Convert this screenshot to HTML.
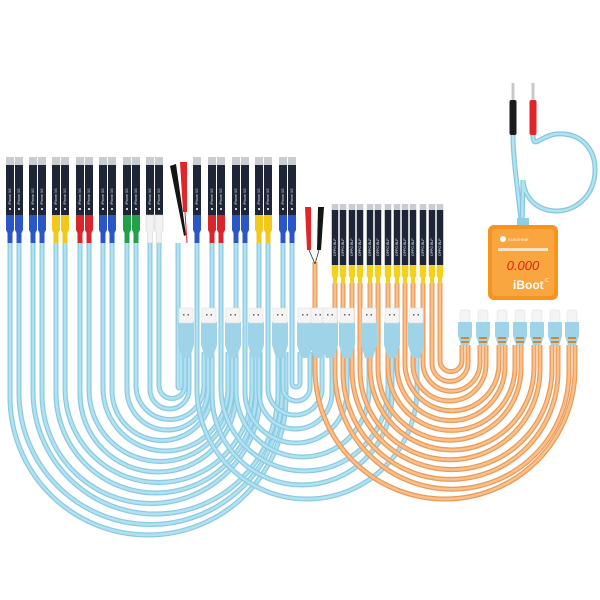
<!DOCTYPE html>
<html><head><meta charset="utf-8"><style>
html,body{margin:0;padding:0;background:#fff;width:600px;height:600px;overflow:hidden}
svg{display:block}
</style></head><body>
<svg id="s" width="600" height="600" viewBox="0 0 600 600" xmlns="http://www.w3.org/2000/svg" font-family="Liberation Sans, sans-serif">
<rect width="600" height="600" fill="#fff"/>
<g id="cables"></g>
<g id="parts"></g>
<g fill="none" stroke-linecap="round">
<path d="M513 135 C513 160 518 190 522 228" stroke="#86c7de" stroke-width="5"/>
<path d="M513 135 C513 160 518 190 522 228" stroke="#b3e2f1" stroke-width="2.5"/>
<path d="M533 135 C533 150 540 136 556 134 C582 132 596 150 595 172 C594 196 575 212 555 211 C535 210 524 196 523 180 L522 228" stroke="#86c7de" stroke-width="5"/>
<path d="M533 135 C533 150 540 136 556 134 C582 132 596 150 595 172 C594 196 575 212 555 211 C535 210 524 196 523 180 L522 228" stroke="#b3e2f1" stroke-width="2.5"/>
</g>
<rect x="511.5" y="83" width="3" height="18" fill="#c8c8c8"/>
<rect x="509.5" y="100" width="7" height="35" rx="2" fill="#1b1b1b"/>
<rect x="531.5" y="83" width="3" height="18" fill="#c8c8c8"/>
<rect x="529.5" y="100" width="7" height="35" rx="2" fill="#e0262a"/>
<rect x="517" y="218" width="12" height="10" fill="#8fcfe4"/>
<rect x="488" y="225" width="70" height="75" rx="6" fill="#f7941d"/>
<rect x="492" y="229" width="62" height="67" rx="4" fill="#f9a640"/>
<circle cx="503" cy="239" r="3" fill="#fff"/>
<text x="508" y="241" font-size="4" fill="#fff">SUNSHINE</text>
<rect x="498" y="248" width="50" height="3" fill="#fde2bf"/>
<text x="523" y="270" font-size="13" fill="#d6261c" text-anchor="middle" font-style="italic">0.000</text>
<text x="513" y="289" font-size="12" font-weight="bold" fill="#fff">iBoot</text>
<text x="545" y="282" font-size="5" fill="#fff">C</text>
<g id="labels" font-size="3.5" fill="#dfe6ee"></g>
</svg>
<script>
const NS="http://www.w3.org/2000/svg";
const cab=document.getElementById('cables'),parts=document.getElementById('parts');
function el(p,tag,a){const e=document.createElementNS(NS,tag);for(const k in a)e.setAttribute(k,a[k]);p.appendChild(e);return e;}
function u(x1,y1,x2,y2,B){
  const L=Math.min(x1,x2),R=Math.max(x1,x2);let r=(R-L)/2;r=Math.min(r,B-Math.max(y1,y2)-2);if(r<1)r=1;
  return `M${x1} ${y1} V${B-r} A${r} ${r} 0 0 ${x2>x1?0:1} ${x1+(x2>x1?r:-r)} ${B} H${x2+(x2>x1?-r:r)} A${r} ${r} 0 0 ${x2>x1?0:1} ${x2} ${B-r} V${y2}`;
}
function cable(d,c1,c2){el(cab,'path',{d,fill:'none',stroke:c1,'stroke-width':5});el(cab,'path',{d,fill:'none',stroke:c2,'stroke-width':2.5});}
const BL1='#8acbe2',BL2='#b2e1f1',OR1='#eb9b57',OR2='#f8c08c';
const lf=[10,19,33,42,56,65,80,89,103,112,127,136,150,159,178];
const lp=[286,282,278,260,256,252,236,232,228,212,208,204,189,185,181];
lf.forEach((x,i)=>cable(u(x,243,lp[i],352,535-i*10.5),BL1,BL2));
const rf=[197,212,221,236,245,259,268,283,292];
const rp=[417,392,388,369,347,332,322,310,300];
rf.forEach((x,i)=>cable(u(x,243,rp[i],352,499-i*14),BL1,BL2));
const of=[315,335,343,352,360,370,378,388,397,405,413,423,432,440];
const op=[575,569,558,552,540,534,521,515,505,499,486,480,468,462];
of.forEach((x,i)=>cable(u(x,283,op[i],345,499-i*9.8),OR1,OR2));
cable('M315 262 V285',OR1,OR2);
const bc=[[10,'#2a56c6'],[19,'#2a56c6'],[33,'#2a56c6'],[42,'#2a56c6'],[56,'#f0c81e'],[65,'#f0c81e'],[80,'#d8262c'],[89,'#d8262c'],[103,'#2a56c6'],[112,'#2a56c6'],[127,'#23a04a'],[136,'#23a04a'],[150,'#f2f2f2'],[159,'#f2f2f2'],[197,'#2a56c6'],[212,'#d8262c'],[221,'#d8262c'],[236,'#2a56c6'],[245,'#2a56c6'],[259,'#f0c81e'],[268,'#f0c81e'],[283,'#2a56c6'],[292,'#2a56c6']];
const lab=document.getElementById('labels');
bc.forEach(([x,c])=>{
  el(parts,'rect',{x:x-4,y:157,width:8,height:9,fill:'#c9cdd2'});
  el(parts,'rect',{x:x-4,y:165,width:8,height:50,fill:'#1d2536'});
  el(parts,'path',{d:`M${x-4} 215 H${x+4} V230 L${x+2.5} 233 V243 H${x-2.5} V233 L${x-4} 230Z`,fill:c,stroke:c==='#f2f2f2'?'#ccc':'none','stroke-width':0.5});
  el(parts,'circle',{cx:x,cy:209,r:1,fill:'#fff'});
  const t=el(lab,'text',{x:0,y:0,transform:`translate(${x+1.2},205) rotate(-90)`});t.textContent='iPhone XS';
});
el(parts,'path',{d:'M170 166 L176 164 L186 235 L184 236Z',fill:'#151515'});
el(parts,'path',{d:'M180 162 L187 162 L187 212 L183 212Z',fill:'#e0262a'});
el(parts,'line',{x1:185,y1:212,x2:187,y2:243,stroke:'#e0262a','stroke-width':1});
of.slice(1).forEach(x=>{
  el(parts,'rect',{x:x-3.25,y:204,width:6.5,height:7,fill:'#c9cdd2'});
  el(parts,'rect',{x:x-3.25,y:210,width:6.5,height:55,fill:'#1d2536'});
  el(parts,'path',{d:`M${x-3.25} 265 H${x+3.25} V276 L${x+2} 278 V284 H${x-2} V278 L${x-3.25} 276Z`,fill:'#f3d21e'});
  const t=el(lab,'text',{x:0,y:0,transform:`translate(${x+1.2},256) rotate(-90)`});t.textContent='OPPO BLP';
});
el(parts,'path',{d:'M305 207 L311 207 L311 250 L307 250Z',fill:'#e0262a'});
el(parts,'path',{d:'M318 207 L324 207 L321 250 L317 250Z',fill:'#151515'});
el(parts,'path',{d:'M309 250 L315 264 M319 250 L315 264',stroke:'#333','stroke-width':0.8,fill:'none'});
[186,209,233,256,280,305,318,330,347,369,392,416].forEach(x=>{
  el(parts,'path',{d:`M${x-8} 322 H${x+8} V345 L${x+4} 358 H${x-4} L${x-8} 345Z`,fill:'#9fd4e8'});
  el(parts,'rect',{x:x-7,y:308,width:14,height:15,fill:'#f4f4f4',stroke:'#ddd','stroke-width':0.5});
  el(parts,'rect',{x:x-3,y:314,width:1.5,height:1.5,fill:'#666'});el(parts,'rect',{x:x+1.5,y:314,width:1.5,height:1.5,fill:'#666'});
});
[465,483,502,520,537,555,572].forEach(x=>{
  el(parts,'rect',{x:x-5,y:310,width:10,height:13,rx:2,fill:'#f4f4f4',stroke:'#ddd','stroke-width':0.5});
  el(parts,'path',{d:`M${x-7} 322 H${x+7} V336 L${x+4} 345 H${x-4} L${x-7} 336Z`,fill:'#9fd4e8'});
  el(parts,'rect',{x:x-4,y:337,width:8,height:2,fill:'#c98a3a'});el(parts,'rect',{x:x-4,y:341,width:8,height:2,fill:'#c98a3a'});
});
</script>
</body></html>
